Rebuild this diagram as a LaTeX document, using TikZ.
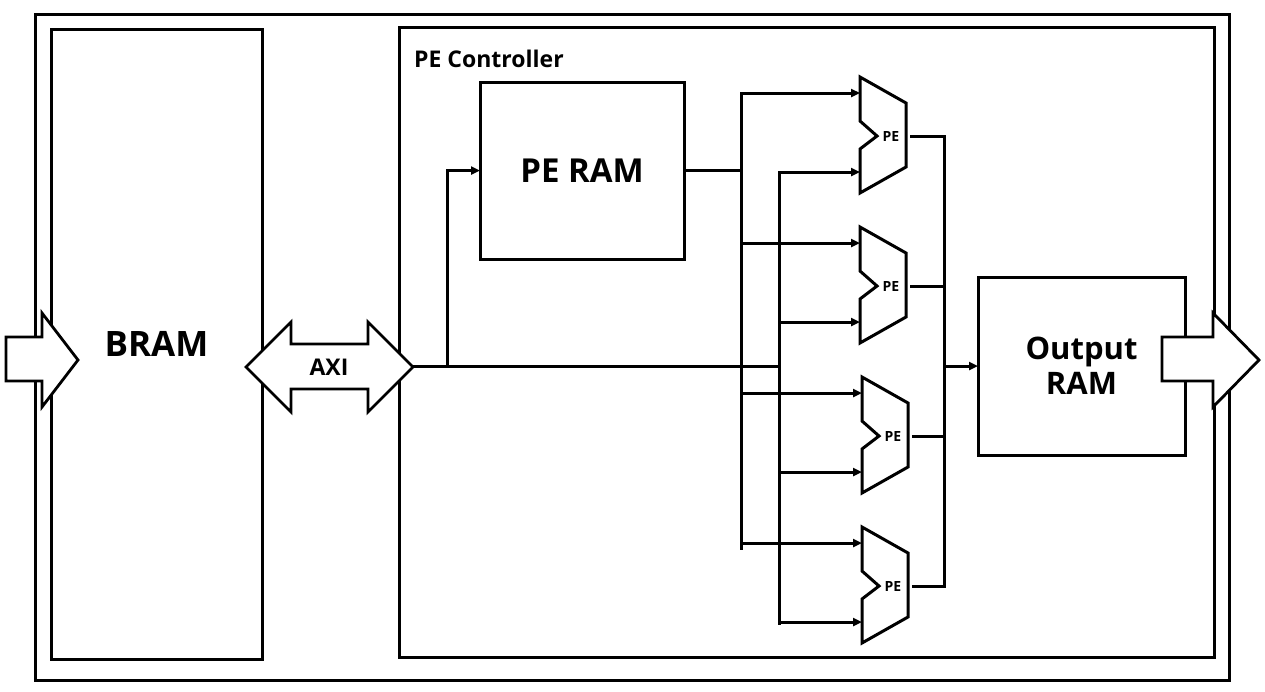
\documentclass[tikz,border=0pt]{standalone}
\usepackage{fontspec}
\setmainfont{Open Sans}
\usetikzlibrary{arrows.meta}
\newcommand{\fs}[1]{\bfseries\fontsize{#1}{#1}\selectfont}
\begin{document}
\begin{tikzpicture}[x=1pt,y=-1pt,
  box/.style={draw,line width=3pt,inner sep=0pt,outer sep=0pt},
  conn/.style={line width=3pt,line cap=rect},
  arr/.style={conn,-{Triangle[length=9pt,width=8pt]}},
  bigarrow/.style={draw,fill=white,line width=2.8pt,line join=miter},
  pebody/.style={draw,line width=3pt,line join=miter},
  pelabel/.style={inner sep=0pt,font=\fs{14}}]
\useasboundingbox (0,0) rectangle (1265,691);

% boxes
\node[box,minimum width=1194pt,minimum height=666pt] (outer) at (632,347) {};
\node[box,minimum width=211pt,minimum height=630pt,font=\fs{35}] (bram) at (156.5,344) {BRAM};
\node[box,minimum width=815pt,minimum height=630pt] (pec) at (806.5,342) {};
\node[anchor=base west,inner sep=0pt,font=\fs{23}] (peclabel) at (414,67) {PE Controller};
\node[box,minimum width=204pt,minimum height=177pt,font=\fs{33}] (peram) at (582,170.5) {PE RAM};
\node[box,minimum width=207pt,minimum height=178pt,align=center,font=\bfseries\fontsize{31}{35}\selectfont] (outram) at (1081.5,366) {Output\\RAM};

% PEs
\foreach \i/\L/\T in {1/860/77,2/860/227,3/862/377,4/862/527}{
  \draw[pebody] (\L,\T) -- (\L+46,\T+26) -- (\L+46,\T+90) -- (\L,\T+116) -- (\L,\T+72) -- (\L+17,\T+59) -- (\L,\T+44) -- cycle;
  \node[pelabel] (pe\i) at (\L+31,\T+59) {PE};
  \coordinate (pe\i a) at (\L,\T+16);
  \coordinate (pe\i b) at (\L,\T+95);
  \coordinate (pe\i o) at (\L+51,\T+59);
}

% big arrows
\draw[bigarrow] (6,337) -- (42,337) -- (42,313) -- (78,360) -- (42,407) -- (42,381) -- (6,381) -- cycle;
\draw[bigarrow] (1162,337) -- (1213,337) -- (1213,313) -- (1259,360) -- (1213,407) -- (1213,381) -- (1162,381) -- cycle;
\draw[bigarrow] (246,367) -- (291,322) -- (291,344) -- (368,344) -- (368,322) -- (413,367) -- (368,412) -- (368,389) -- (291,389) -- (291,412) -- cycle;
\node[inner sep=0pt,font=\fs{23}] (axi) at (329,367) {AXI};
\coordinate (axitip) at (413,366);

% bus coordinates
\coordinate (b1top) at (741,93);
\coordinate (b1bot) at (741,548);
\coordinate (b2top) at (779,172);
\coordinate (b2bot) at (779,623);
\coordinate (obtop) at (944,136);
\coordinate (obbot) at (944,586);
\coordinate (axibr) at (447,366);
\coordinate (ramout) at (741,170);
\coordinate (axiend) at (779,366);
\coordinate (obmid) at (944,366);

% connections
\draw[conn,line cap=butt] (axitip) -- (axiend);
\draw[arr] (axibr) |- (peram.west);
\draw[conn,line cap=butt] (peram.east |- ramout) -- (ramout);
\draw[conn] (b1top) -- (b1bot);
\draw[conn] (b2top) -- (b2bot);
\foreach \i in {1,2,3,4}{
  \draw[arr] (b1top |- pe\i a) -- (pe\i a);
  \draw[arr] (b2top |- pe\i b) -- (pe\i b);
  \draw[conn] (pe\i o) -- (obtop |- pe\i o);
}
\draw[conn] (obtop) -- (obbot);
\draw[arr] (obmid) -- (outram.west);
\end{tikzpicture}
\end{document}
